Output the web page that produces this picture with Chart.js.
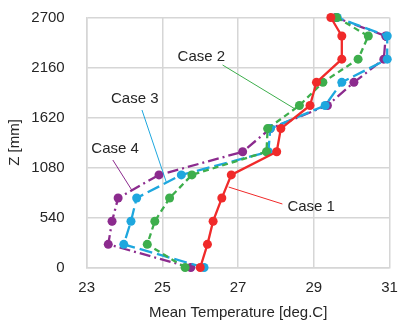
<!DOCTYPE html>
<html><head><meta charset="utf-8">
<script src="https://cdn.jsdelivr.net/npm/chart.js@4/dist/chart.umd.min.js"></script>
<style>html,body{margin:0;padding:0;background:#fff}#wrap{width:399px;height:320px}</style>
</head><body><div id="wrap"><canvas id="c" width="399" height="320"></canvas></div>
<script>
const zLevels = [0, 250, 500, 750, 1000, 1250, 1500, 1750, 2000, 2250, 2500, 2700];
const case1 = [26.0, 26.19, 26.34, 26.57, 26.82, 28.02, 28.13, 28.9, 29.07, 29.74, 29.74, 29.45];
const case2 = [25.6, 24.6, 24.8, 25.19, 25.78, 27.75, 27.78, 28.62, 29.24, 30.17, 30.44, 29.6];
const case3 = [26.1, 23.98, 24.17, 24.32, 25.5, 27.8, 27.85, 29.3, 29.74, 30.94, 30.94, 29.62];
const case4 = [25.75, 23.57, 23.67, 23.83, 24.91, 27.12, 27.85, 29.36, 30.06, 30.85, 30.9, 29.58];
const seriesNames = ['Case 1', 'Case 2', 'Case 3', 'Case 4'];
const xTicks = [23, 25, 27, 29, 31];
const yTicks = [0, 540, 1080, 1620, 2160, 2700];
// annotation label positions (data units): text anchor, leader start, leader end
const annoCase2 = {text:[26.03, 2273], from:[26.59, 2187], to:[28.51, 1711]};
const annoCase3 = {text:[24.27, 1820], from:[24.46, 1701], to:[25.11, 913]};
const annoCase4 = {text:[23.75, 1280], from:[23.69, 1161], to:[24.19, 837]};
const annoCase1 = {text:[28.93, 653], from:[28.17, 686], to:[26.75, 869]};

const colors = ['#f02a2a', '#3dae4c', '#1ea7de', '#8c2b8e'];
const dashes = [[], [6, 4], [13, 5], [11, 4, 2, 4]];
const all = [case1, case2, case3, case4];
const annos = [annoCase1, annoCase2, annoCase3, annoCase4];

const datasets = all.map((vals, i) => ({
  label: seriesNames[i],
  data: vals.map((v, k) => ({x: v, y: zLevels[k]})),
  showLine: true,
  clip: false,
  borderColor: colors[i],
  backgroundColor: colors[i],
  borderWidth: 2.3,
  borderDash: dashes[i],
  pointRadius: 4.5,
  pointBorderWidth: 0,
  pointBackgroundColor: colors[i],
  tension: 0
}));

const annoPlugin = {
  id: 'anno',
  afterDatasetsDraw(chart) {
    const ctx = chart.ctx, xs = chart.scales.x, ys = chart.scales.y;
    ctx.save();
    annos.forEach((a, i) => {
      ctx.strokeStyle = colors[i];
      ctx.lineWidth = 1;
      ctx.setLineDash([]);
      ctx.beginPath();
      ctx.moveTo(xs.getPixelForValue(a.from[0]), ys.getPixelForValue(a.from[1]));
      ctx.lineTo(xs.getPixelForValue(a.to[0]), ys.getPixelForValue(a.to[1]));
      ctx.stroke();
      ctx.fillStyle = '#262626';
      ctx.font = '15px "Liberation Sans", Arial, sans-serif';
      ctx.textAlign = 'center';
      ctx.textBaseline = 'middle';
      ctx.fillText(seriesNames[i], xs.getPixelForValue(a.text[0]), ys.getPixelForValue(a.text[1]));
    });
    ctx.restore();
  }
};

const fontSpec = {family: '"Liberation Sans", Arial', size: 15};

new Chart(document.getElementById('c'), {
  type: 'scatter',
  data: {datasets},
  plugins: [annoPlugin],
  options: {
    responsive: false,
    animation: false,
    layout: {padding: {left: 0, right: 9.5, top: 17.5, bottom: 0}},
    plugins: {legend: {display: false}, tooltip: {enabled: false}},
    scales: {
      x: {
        type: 'linear', min: 23, max: 31,
        afterBuildTicks: s => { s.ticks = xTicks.map(v => ({value: v})); },
        afterFit: s => { s.height = 52.5; s.paddingLeft = 0; s.paddingRight = 0; },
        grid: {color: '#d6d6d6', lineWidth: 1.5, drawTicks: false},
        border: {color: '#d6d6d6', width: 1.5},
        ticks: {padding: 11, color: '#262626', font: fontSpec, maxRotation: 0, callback: v => String(v)},
        title: {display: true, text: 'Mean Temperature [deg.C]', color: '#262626', font: fontSpec, padding: {top: 4, bottom: -2}}
      },
      y: {
        type: 'linear', min: 0, max: 2700,
        afterBuildTicks: s => { s.ticks = yTicks.map(v => ({value: v})); },
        afterFit: s => { s.width = 86.7; s.paddingTop = 0; s.paddingBottom = 0; },
        grid: {color: '#d6d6d6', lineWidth: 1.5, drawTicks: false},
        border: {color: '#d6d6d6', width: 1.5},
        ticks: {padding: 22, color: '#262626', font: fontSpec, callback: v => String(v)},
        title: {display: true, text: 'Z [mm]', color: '#262626', font: fontSpec, padding: {top: 6, bottom: 0}}
      }
    }
  }
});
</script></body></html>
